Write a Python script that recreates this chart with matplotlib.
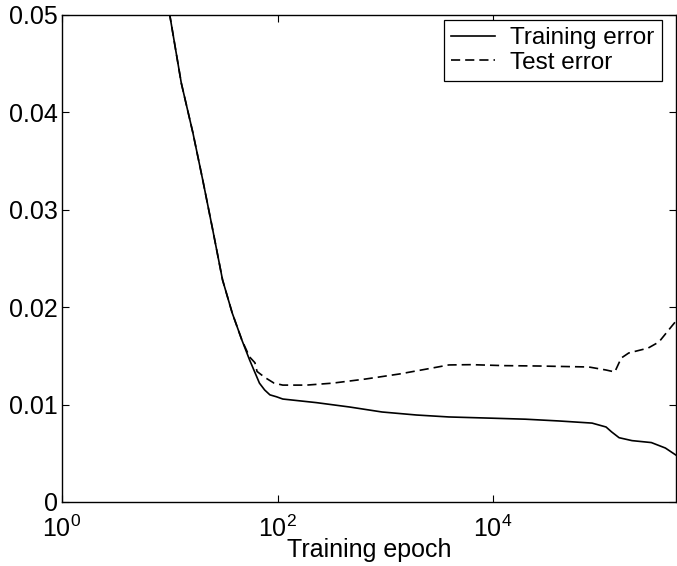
import matplotlib
matplotlib.use("Agg")
import matplotlib.pyplot as plt

# ── Data ─────────────────────────────────────────────────────────────────────
train_epoch = [8.9, 10, 12.8, 16.4, 20.2, 25.1, 30.9, 38, 46.8, 55, 68, 76,
               85, 98, 112, 230, 468, 933, 1950, 3890, 10000, 20000, 40700,
               83000, 112000, 126000, 148000, 195000, 295000, 398000, 501000]
train_err = [0.0535, 0.050, 0.043, 0.0379, 0.0331, 0.0279, 0.0228, 0.0194,
             0.0166, 0.0146, 0.0122, 0.0115, 0.0110, 0.0108, 0.01057, 0.0102,
             0.00975, 0.00924, 0.00893, 0.00873, 0.0086, 0.0085, 0.00832,
             0.0081, 0.0077, 0.0072, 0.0066, 0.0063, 0.0061, 0.00554, 0.0048]

test_epoch = [8.9, 10, 12.8, 16.4, 20.2, 25.1, 30.9, 38, 46.8, 55, 61.7, 64.6,
              76, 93, 112, 186, 324, 661, 1350, 2750, 3890, 6300, 12600,
              26900, 77600, 112000, 135000, 155000, 182000, 275000, 347000,
              427000, 501000]
test_err = [0.0535, 0.050, 0.043, 0.0379, 0.0331, 0.0279, 0.0228, 0.0194,
            0.0166, 0.0149, 0.0143, 0.0134, 0.0128, 0.0122, 0.0120, 0.0120,
            0.0122, 0.01263, 0.01314, 0.01376, 0.01407, 0.0141, 0.0140,
            0.01396, 0.01386, 0.01355, 0.01335, 0.01478, 0.0153, 0.0158,
            0.01643, 0.01766, 0.0186]

y_ticks = [0, 0.01, 0.02, 0.03, 0.04, 0.05]
y_labels = ["0", "0.01", "0.02", "0.03", "0.04", "0.05"]
x_ticks = [1, 100, 10000]
x_labels = [r"$\mathregular{10^{0}}$", r"$\mathregular{10^{2}}$",
            r"$\mathregular{10^{4}}$"]

plt.rcParams["font.family"] = ["Liberation Sans", "DejaVu Sans"]
plt.rcParams["mathtext.fontset"] = "custom"
plt.rcParams["mathtext.rm"] = "Liberation Sans"

fig = plt.figure(figsize=(6.77, 5.66), dpi=100)
ax = fig.add_axes([0.0916, 0.1131, 0.907, 0.8604])

ax.plot(train_epoch, train_err, color="black", lw=1.2, label="Training error")
ax.plot(test_epoch, test_err, color="black", lw=1.2, dashes=(5.5, 3),
        label="Test error")

ax.set_xscale("log")
ax.set_xlim(1, 5e5)
ax.set_ylim(0, 0.05)
ax.set_xticks(x_ticks)
ax.set_xticklabels(x_labels)
ax.minorticks_off()
ax.set_yticks(y_ticks)
ax.set_yticklabels(y_labels)
ax.tick_params(direction="in", top=True, right=True, length=5, width=0.8,
               labelsize=18)
ax.tick_params(axis="y", pad=3)
ax.tick_params(axis="x", pad=10)
ax.set_xlabel("Training epoch", fontsize=18, labelpad=-3)
for s in ax.spines.values():
    s.set_linewidth(1.0)

leg = ax.legend(loc="upper right", fontsize=17.5, frameon=True, fancybox=False,
                edgecolor="black", framealpha=1, borderaxespad=0,
                bbox_to_anchor=(662 / 677, 1 - 20 / 566),
                bbox_transform=fig.transFigure,
                handlelength=1.8, borderpad=0.3, labelspacing=0.1,
                handletextpad=0.65)
leg.get_frame().set_linewidth(0.9)

fig.savefig("out.png", dpi=100, facecolor="white")
